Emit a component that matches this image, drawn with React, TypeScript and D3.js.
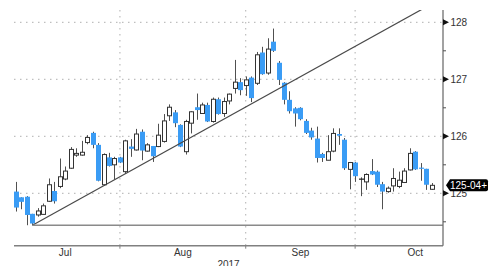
import React from 'react';
import * as d3 from 'd3';

const width = 489;
const height = 266;
const plot = { left: 14, right: 443, top: 10, bottom: 245.7 };

// daily bars, Jul 3 2017 .. Oct 19 2017
const opens = [
  125.03, 124.93, 124.94, 124.64, 124.62, 124.63, 124.86, 125.04, 125.12, 125.25,
  125.44, 125.67, 125.67, 125.89, 126.06, 125.85, 125.15, 125.63, 125.5, 125.63,
  125.38, 125.82, 125.76, 126.08, 125.74, 125.83, 125.82, 125.91, 126.36, 126.42,
  126.2, 125.73, 126.23, 126.51, 126.4, 126.55, 126.26, 126.65, 126.4, 126.62,
  126.84, 126.95, 126.89, 127.03, 126.93, 127.47, 127.11, 127.66, 127.29, 126.94,
  126.64, 126.49, 126.5, 126.27, 126.1, 125.96, 125.69, 125.58, 125.74, 126.04,
  125.94, 125.42, 125.54, 125.25, 125.2, 125.39, 125.38, 125.16, 125.03, 125.13,
  125.12, 125.19, 125.41, 125.73, 125.45, 125.43, 125.07,
];
const highs = [
  125.2, 124.93, 124.95, 124.64, 124.74, 124.82, 125.26, 125.2, 125.61, 125.47,
  125.81, 125.79, 125.92, 126.02, 126.08, 125.88, 125.7, 125.71, 125.64, 125.64,
  125.94, 125.95, 126.13, 126.12, 125.88, 125.83, 126.22, 126.39, 126.56, 126.46,
  126.21, 126.29, 126.44, 126.75, 126.59, 126.59, 126.68, 126.68, 126.68, 126.75,
  127.34, 127.02, 127.05, 127.05, 127.48, 127.57, 127.72, 127.89, 127.32, 126.95,
  126.79, 126.51, 126.51, 126.3, 126.15, 126.17, 125.71, 126.02, 126.14, 126.14,
  125.97, 125.55, 125.55, 125.28, 125.35, 125.6, 125.4, 125.2, 125.12, 125.44,
  125.38, 125.44, 125.79, 125.74, 125.53, 125.43, 125.18,
];
const lows = [
  124.68, 124.72, 124.44, 124.44, 124.59, 124.63, 124.85, 124.82, 125.09, 125.23,
  125.43, 125.64, 125.66, 125.86, 125.79, 125.21, 125.13, 125.47, 125.24, 125.53,
  125.34, 125.64, 125.75, 125.58, 125.73, 125.55, 125.81, 125.89, 126.27, 126.16,
  125.81, 125.68, 126.05, 126.29, 126.4, 126.25, 126.24, 126.38, 126.34, 126.56,
  126.75, 126.72, 126.71, 126.6, 126.9, 127.08, 127.08, 127.48, 126.9, 126.56,
  126.4, 126.17, 126.28, 126.04, 125.94, 125.54, 125.55, 125.58, 125.72, 125.85,
  125.41, 125.07, 125.2, 124.95, 125.06, 125.32, 125.11, 124.72, 125.01, 125.03,
  125.09, 125.18, 125.4, 125.41, 125.22, 125.06, 125.06,
];
const closes = [
  124.75, 124.85, 124.62, 124.47, 124.69, 124.78, 125.15, 124.86, 125.29, 125.39,
  125.77, 125.7, 125.72, 125.98, 125.85, 125.22, 125.68, 125.48, 125.61, 125.54,
  125.92, 125.78, 126.04, 125.75, 125.85, 125.65, 126.02, 126.27, 126.51, 126.23,
  125.82, 126.26, 126.43, 126.46, 126.55, 126.26, 126.65, 126.39, 126.61, 126.74,
  126.95, 126.81, 126.99, 126.67, 127.43, 127.09, 127.53, 127.5, 126.99, 126.64,
  126.44, 126.4, 126.3, 126.06, 125.98, 125.62, 125.62, 125.73, 126.05, 126.01,
  125.44, 125.54, 125.3, 125.25, 125.33, 125.33, 125.15, 125.03, 125.09, 125.26,
  125.23, 125.39, 125.7, 125.42, 125.43, 125.15, 125.14,
];

const monthLabels = ['Jul', 'Aug', 'Sep', 'Oct'];
// index of the last bar of each month (Jun 30 = -1, Oct 31 = 84)
const monthEnds = [-1, 19, 42, 62, 84];
const yearLabel = '2017';

const majorTicks = [125, 126, 127, 128];
const minorTicks = [124.5, 125.5, 126.5, 127.5];
const lastPrice = 125 + 4.5 / 32;
const lastLabel = '125-04+';

// trend line anchors (bar index, price) and the support level
const trendFrom = { i: 3, p: 124.44 };
const trendTo = { i: 73.7, p: 128.2 };
const support = { i: 3, p: 124.44 };

const BLUE = '#3a9cf5';
const font = '"Liberation Sans", Arial, sans-serif';

export default function App() {
  const x = d3.scaleLinear().domain([0, opens.length - 1]).range([16, 431.7]);
  const y = d3.scaleLinear().domain([125, 128]).range([193.3, 22.3]);

  const bars = opens.map((o, i) => ({ o, h: highs[i], l: lows[i], c: closes[i], i }));

  const slope = (trendTo.p - trendFrom.p) / (trendTo.i - trendFrom.i);
  const trendEndI = opens.length + 10;
  const trendLine = d3.line<[number, number]>()
    .x((d) => x(d[0]))
    .y((d) => y(d[1]))([
    [trendFrom.i, trendFrom.p],
    [trendEndI, trendFrom.p + slope * (trendEndI - trendFrom.i)],
  ]);

  const ly = y(lastPrice);
  const bx = 446;
  const labelPath = `M${bx},${ly} L${bx + 4},${ly - 6} L${486},${ly - 6} Q${488},${ly - 6} ${488},${ly - 4} L${488},${ly + 4} Q${488},${ly + 6} ${486},${ly + 6} L${bx + 4},${ly + 6} Z`;

  return (
    <svg
      width={width}
      height={height}
      style={{ position: 'absolute', left: 0, top: 0, background: '#fff' }}
      fontFamily={font}
    >
      <defs>
        <clipPath id="plotClip">
          <rect x={plot.left} y={plot.top} width={plot.right - plot.left} height={plot.bottom - plot.top} />
        </clipPath>
      </defs>

      {/* grid */}
      {majorTicks.map((t) => (
        <line key={t} x1={plot.left} x2={plot.right} y1={y(t)} y2={y(t)}
          stroke="#b0b0b0" strokeWidth={1} strokeDasharray="1.5,4.5" />
      ))}
      {monthEnds.slice(1, -1).map((m) => (
        <line key={m} x1={x(m)} x2={x(m)} y1={plot.top} y2={plot.bottom}
          stroke="#b0b0b0" strokeWidth={1} strokeDasharray="1.5,4.5" />
      ))}

      {/* candles */}
      <g>
        {bars.map((b) => {
          const cx = Math.round(x(b.i)) + 0.5;
          const down = b.c < b.o;
          const top = y(Math.max(b.o, b.c));
          const bot = y(Math.min(b.o, b.c));
          const hgt = Math.max(1, bot - top);
          return (
            <g key={b.i}>
              <line x1={cx} x2={cx} y1={y(b.h)} y2={y(b.l)} stroke="#505050" strokeWidth={1} />
              {down ? (
                <rect x={cx - 2.5} y={top} width={5} height={hgt} fill={BLUE} />
              ) : hgt <= 1.2 ? (
                <rect x={cx - 2.5} y={top - 0.5} width={5} height={1.2} fill="#222" />
              ) : (
                <rect x={cx - 2} y={top} width={4} height={hgt} fill="#fff" stroke="#333" strokeWidth={1} />
              )}
            </g>
          );
        })}
      </g>

      {/* trend + support lines */}
      <g clipPath="url(#plotClip)">
        <path d={trendLine ?? ''} fill="none" stroke="#4a4a4a" strokeWidth={1.2} />
      </g>
      <line x1={x(support.i)} x2={plot.right} y1={y(support.p)} y2={y(support.p)}
        stroke="#8a8a8a" strokeWidth={1.6} />

      {/* bottom axis */}
      <line x1={plot.left} x2={plot.right} y1={plot.bottom} y2={plot.bottom} stroke="#808080" strokeWidth={1.4} />
      {monthEnds.slice(1, -1).map((m) => (
        <line key={m} x1={x(m)} x2={x(m)} y1={plot.bottom} y2={plot.bottom + 3} stroke="#808080" />
      ))}
      {monthLabels.map((lab, k) => (
        <text key={lab} x={(x(monthEnds[k]) + x(monthEnds[k + 1])) / 2} y={256}
          textAnchor="middle" fontSize={10} fill="#333">{lab}</text>
      ))}
      <text x={(plot.left + plot.right) / 2} y={267.5} textAnchor="middle" fontSize={10} fill="#333">{yearLabel}</text>

      {/* right axis */}
      <line x1={plot.right} x2={plot.right} y1={plot.top} y2={plot.bottom} stroke="#707070" strokeWidth={1.3} />
      {minorTicks.map((t) => (
        <line key={t} x1={plot.right} x2={plot.right + 3} y1={y(t)} y2={y(t)} stroke="#505050" />
      ))}
      {majorTicks.map((t) => (
        <g key={t}>
          <path d={`M${plot.right},${y(t) - 3} L${plot.right + 6},${y(t)} L${plot.right},${y(t) + 3} Z`} fill="#111" />
          <text x={plot.right + 7.5} y={y(t) + 3.6} fontSize={10} fill="#333">{t}</text>
        </g>
      ))}

      {/* last price label */}
      <path d={labelPath} fill="#000" />
      <text x={bx + 4} y={ly + 3.6} fontSize={10} fill="#fff">{lastLabel}</text>
    </svg>
  );
}
